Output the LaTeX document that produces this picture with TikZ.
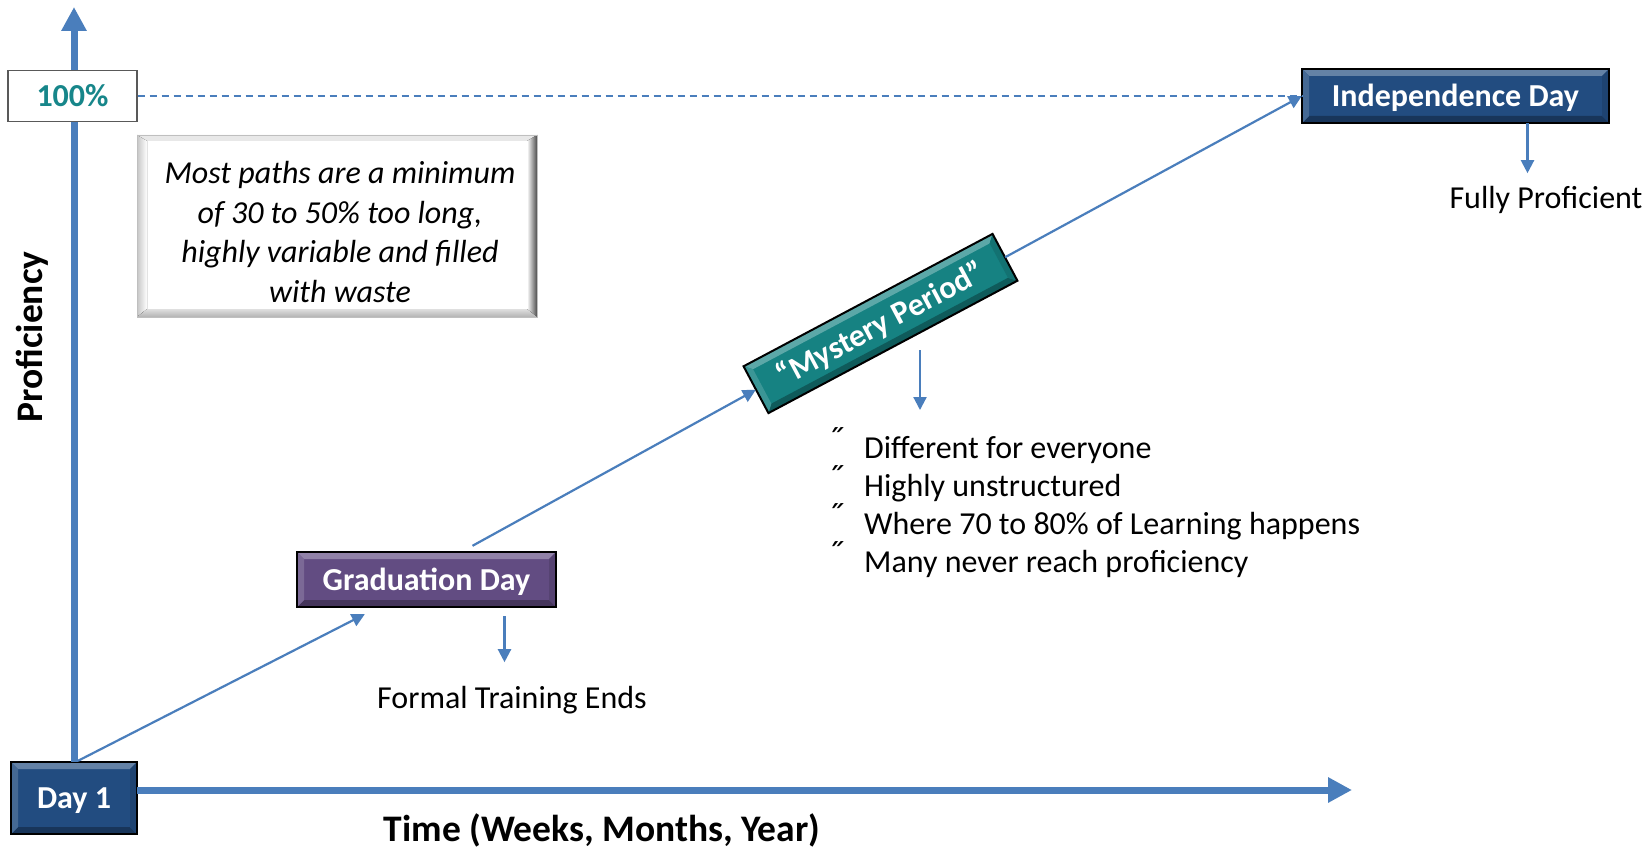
\documentclass[tikz,border=0pt]{standalone}
\usepackage{fontspec}
\setmainfont{Carlito}
\usetikzlibrary{arrows.meta,calc}
\definecolor{axisblue}{RGB}{74,126,188}
\definecolor{navy}{RGB}{34,76,128}
\definecolor{grape}{RGB}{98,76,130}
\definecolor{tealbox}{RGB}{22,130,130}
\definecolor{tealtext}{RGB}{23,134,138}
\newcommand\bevelbox[5]{%
 \begin{scope}[shift={(#1.center)},rotate=#4]
  \fill[#5!70!white] (-#2,-#3) -- (#2,-#3) -- ({#2-7},{-#3+7}) -- ({-#2+7},{-#3+7}) -- cycle;
  \fill[#5!70!black] (-#2,#3) -- (#2,#3) -- ({#2-7},{#3-7}) -- ({-#2+7},{#3-7}) -- cycle;
  \fill[#5!84!white] (-#2,-#3) -- ({-#2+7},{-#3+7}) -- ({-#2+7},{#3-7}) -- (-#2,#3) -- cycle;
  \fill[#5!88!black] (#2,-#3) -- ({#2-7},{-#3+7}) -- ({#2-7},{#3-7}) -- (#2,#3) -- cycle;
  \draw[black,line width=2pt] (-#2,-#3) rectangle (#2,#3);
 \end{scope}}
\begin{document}
\begin{tikzpicture}[x=1pt,y=-1pt,
  axis/.style={axisblue, line width=7pt, -{Triangle[width=24pt,length=24pt]}},
  conn/.style={axisblue, line width=2.2pt, -{Triangle[width=13pt,length=13pt]}},
  plain/.style={font=\fontsize{32}{39}\selectfont, text=black, inner sep=0pt, text height=24pt, text depth=4pt},
  boxlabel/.style={font=\bfseries\fontsize{32}{38}\selectfont, text=white, inner sep=0pt, text height=25pt, text depth=4pt},
  box/.style={boxlabel, fill=#1, minimum width=0pt, minimum height=0pt},
  axislabel/.style={font=\bfseries\fontsize{37.5}{44}\selectfont, text=black, inner sep=0pt}
]
\fill[white] (0,0) rectangle (1651,848);
\useasboundingbox (0,0) rectangle (1651,848);

% boxes
\node[box=navy, minimum width=126pt, minimum height=72pt] (day1) at (74,798) {Day 1};
\node[box=grape, minimum width=259pt, minimum height=55pt] (grad) at (426.5,579.5) {Graduation Day};
\node[box=tealbox, minimum width=282pt, minimum height=53pt, rotate=28] (myst) at (880.5,323.5) {“Mystery Period”};
\node[box=navy, minimum width=307pt, minimum height=54pt] (indep) at (1455.5,96) {Independence Day};
\bevelbox{day1}{63}{36}{0}{navy}
\bevelbox{grad}{129.5}{27.5}{0}{grape}
\bevelbox{myst}{141}{26.5}{28}{tealbox}
\bevelbox{indep}{153.5}{27}{0}{navy}

% axes
\coordinate (ytip) at (74,7);
\coordinate (xtip) at (1352,790);
\draw[axis] (day1.north) -- (ytip);
\draw[axis] (day1.east |- xtip) -- (xtip);

% 100% box
\node[draw=gray!70!black, line width=1.3pt, fill=white, minimum width=129pt, minimum height=51pt,
  font=\bfseries\fontsize{32}{38}\selectfont, text=tealtext, inner sep=0pt, text height=25pt, text depth=4pt] (hund) at (72.5,96) {100\%};
\draw[axisblue, line width=1.5pt, dash pattern=on 7pt off 5pt] (hund.east) -- (indep.west);

% note box
\node[fill=white, minimum width=400pt, minimum height=182pt, inner sep=0pt] (note) at (337,226) {};
\begin{scope}[shift={(note.center)}]
  \fill[gray!18] (-200,-91) -- (200,-91) -- (190,-85) -- (-190,-85) -- cycle;
  \fill[left color=gray!45, right color=white] (-200,-91) -- (-190,-85) -- (-190,83) -- (-200,91) -- cycle;
  \fill[left color=white, right color=gray!60!black] (200,-91) -- (190,-85) -- (190,83) -- (200,91) -- cycle;
  \fill[top color=gray!25, bottom color=gray!60] (-200,91) -- (-190,83) -- (190,83) -- (200,91) -- cycle;
  \draw[gray!50, line width=0.8pt] (-200,-91) rectangle (200,91);
\end{scope}
\node[font=\itshape\fontsize{32}{39.5}\selectfont, align=center, inner sep=0pt] (notetext) at ($(note.center)+(3,6)$)
  {Most paths are a minimum\\of 30 to 50\% too long,\\highly variable and filled\\with waste};

% connectors
\draw[conn] ($(day1.north)+(4,-1)$) -- ($(grad.south west)+(68,7)$);
\draw[conn] ($(grad.north)+(46,-6)$) -- (myst.west);
\draw[conn] (myst.east) -- (indep.west);

% down arrows and captions
\node[plain] (formal) at (512,698) {Formal Training Ends};
\draw[conn] ($(grad.south)+(78,9)$) -- ++(0,46);
\node[plain] (fully) at (1546,198) {Fully Proficient};
\draw[conn] ($(indep.south)+(72,0)$) -- ++(0,50);
\coordinate (mdown) at (920,410);
\draw[conn] (mdown |- 0,350) -- (mdown);

% bullets
\foreach \i/\t in {1/Different for everyone,2/Highly unstructured,3/Where 70 to 80\% of Learning happens,4/Many never reach proficiency}{
  \node[plain, anchor=west] (b\i) at (864,{410+38*\i}) {\t};
  \node[plain, anchor=west, font=\fontsize{38}{40}\selectfont] (k\i) at (827,{405+38*\i}) {˝};
}

% axis labels
\node[axislabel] (xlab) at (602,830) {Time (Weeks, Months, Year)};
\node[axislabel, rotate=90] (ylab) at (32,337) {Proficiency};
\end{tikzpicture}
\end{document}
